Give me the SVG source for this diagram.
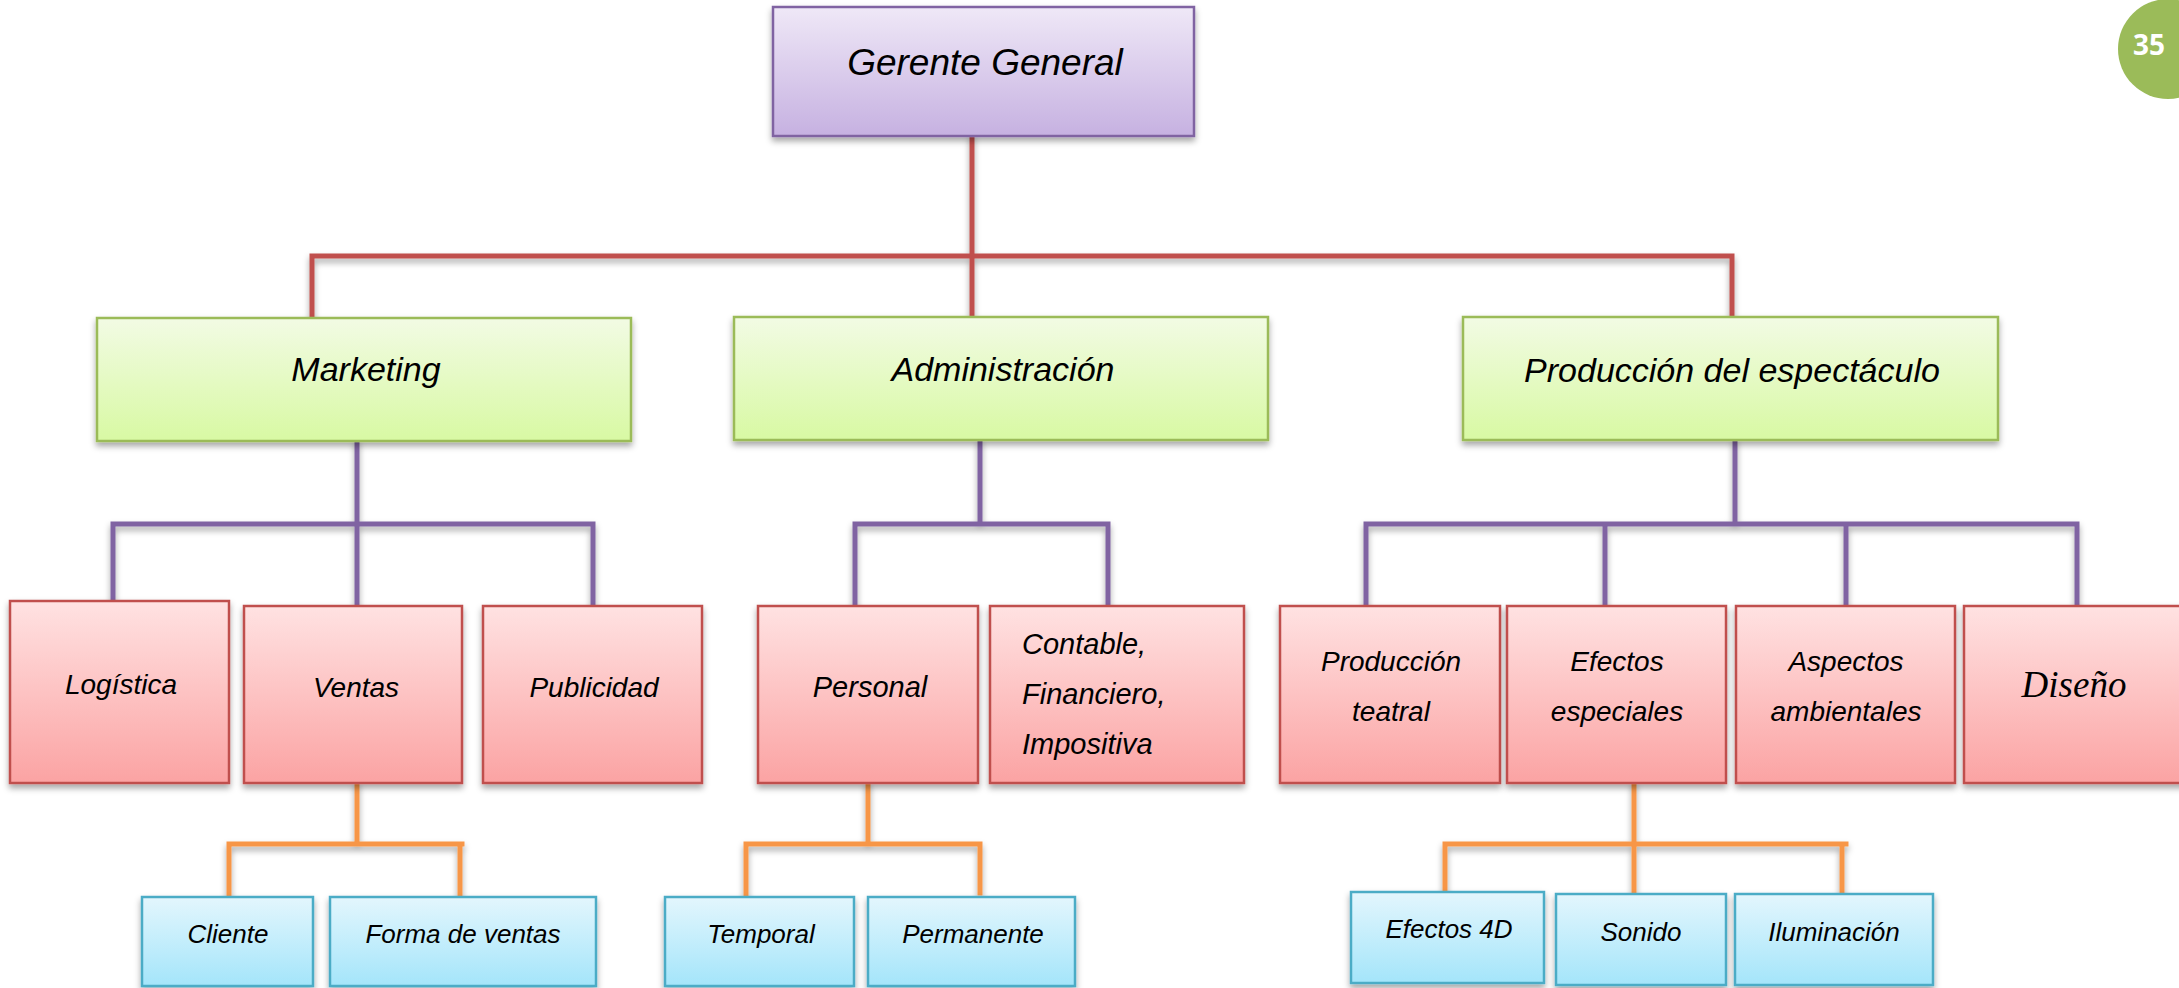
<svg xmlns="http://www.w3.org/2000/svg" width="2179" height="988" viewBox="0 0 2179 988">
<defs>
<linearGradient id="gPurple" x1="0" y1="0" x2="0" y2="1"><stop offset="0" stop-color="#EFE8F7"/><stop offset="1" stop-color="#C6B1E1"/></linearGradient>
<linearGradient id="gGreen" x1="0" y1="0" x2="0" y2="1"><stop offset="0" stop-color="#F2FBE4"/><stop offset="1" stop-color="#D8F9A3"/></linearGradient>
<linearGradient id="gRed" x1="0" y1="0" x2="0" y2="1"><stop offset="0" stop-color="#FFE2E2"/><stop offset="1" stop-color="#FBA3A3"/></linearGradient>
<linearGradient id="gBlue" x1="0" y1="0" x2="0" y2="1"><stop offset="0" stop-color="#E3F6FD"/><stop offset="1" stop-color="#A4E5FA"/></linearGradient>
<filter id="sh" x="-10%" y="-10%" width="120%" height="130%"><feDropShadow dx="0" dy="4" stdDeviation="3" flood-color="#000" flood-opacity="0.35"/></filter>
</defs>
<style>
.t{font-family:"Liberation Sans",Arial,sans-serif;font-style:italic;fill:#000;text-anchor:middle}
.gt{font-size:34px}
.rt{font-size:28px}
.bt{font-size:26px}
.box{stroke-width:2.5}
.p{fill:url(#gPurple);stroke:#8064A2}
.g{fill:url(#gGreen);stroke:#9BBB59}
.r{fill:url(#gRed);stroke:#C0504D}
.b{fill:url(#gBlue);stroke:#4BACC6}
.c{fill:none;stroke-width:5;stroke-linecap:square;stroke-linejoin:miter}
.cr{stroke:#C0504D}
.cp{stroke:#8064A2}
.co{stroke:#F79646}
</style>
<rect width="2179" height="988" fill="#FFFFFF"/>
<g id="connectors" filter="url(#sh)">
<path class="c cr" d="M972 136V317M312 318V256H1732V317"/>
<path class="c cp" d="M357 441V606M113 601V524H593V606"/>
<path class="c cp" d="M980 441V524M855 606V524H1108V606"/>
<path class="c cp" d="M1735 441V524M1366 606V524H2077V606M1605 524V606M1846 524V606"/>
<path class="c co" d="M357 783V844M229 897V844H462M460 844V897"/>
<path class="c co" d="M868 783V844M746 897V844H980V893"/>
<path class="c co" d="M1634 783V894M1445 892V844H1846M1842 844V894"/>
</g>
<g id="gerente"><rect class="box p" x="773" y="7" width="421" height="129" filter="url(#sh)"/><text class="t" x="985" y="75" font-size="37">Gerente General</text></g>
<g id="marketing"><rect class="box g" x="97" y="318" width="534" height="123" filter="url(#sh)"/><text class="t gt" x="366" y="381">Marketing</text></g>
<g id="administracion"><rect class="box g" x="734" y="317" width="534" height="123" filter="url(#sh)"/><text class="t gt" x="1003" y="381">Administración</text></g>
<g id="produccion"><rect class="box g" x="1463" y="317" width="535" height="123" filter="url(#sh)"/><text class="t gt" x="1732" y="382">Producción del espectáculo</text></g>
<g id="logistica"><rect class="box r" x="10" y="601" width="219" height="182" filter="url(#sh)"/><text class="t rt" x="121" y="694">Logística</text></g>
<g id="ventas"><rect class="box r" x="244" y="606" width="218" height="177" filter="url(#sh)"/><text class="t rt" x="356" y="697">Ventas</text></g>
<g id="publicidad"><rect class="box r" x="483" y="606" width="219" height="177" filter="url(#sh)"/><text class="t rt" x="594" y="697">Publicidad</text></g>
<g id="personal"><rect class="box r" x="758" y="606" width="220" height="177" filter="url(#sh)"/><text class="t" font-size="29" x="870" y="697">Personal</text></g>
<g id="contable"><rect class="box r" x="990" y="606" width="254" height="177" filter="url(#sh)"/><text class="t" font-size="29" style="text-anchor:start"><tspan x="1022" y="654">Contable,</tspan><tspan x="1022" y="704">Financiero,</tspan><tspan x="1022" y="754">Impositiva</tspan></text></g>
<g id="prodteatral"><rect class="box r" x="1280" y="606" width="220" height="177" filter="url(#sh)"/><text class="t rt"><tspan x="1391" y="671">Producción</tspan><tspan x="1391" y="721">teatral</tspan></text></g>
<g id="efectos"><rect class="box r" x="1507" y="606" width="219" height="177" filter="url(#sh)"/><text class="t rt"><tspan x="1617" y="671">Efectos</tspan><tspan x="1617" y="721">especiales</tspan></text></g>
<g id="aspectos"><rect class="box r" x="1736" y="606" width="219" height="177" filter="url(#sh)"/><text class="t rt"><tspan x="1846" y="671">Aspectos</tspan><tspan x="1846" y="721">ambientales</tspan></text></g>
<g id="diseno"><rect class="box r" x="1964" y="606" width="222" height="177" filter="url(#sh)"/><text x="2074" y="697" font-family="'Liberation Serif','Times New Roman',serif" font-style="italic" font-size="37" text-anchor="middle" fill="#000">Diseño</text></g>
<g id="cliente"><rect class="box b" x="142" y="897" width="171" height="89" filter="url(#sh)"/><text class="t bt" x="228" y="943">Cliente</text></g>
<g id="forma"><rect class="box b" x="330" y="897" width="266" height="89" filter="url(#sh)"/><text class="t bt" x="463" y="943">Forma de ventas</text></g>
<g id="temporal"><rect class="box b" x="665" y="897" width="189" height="89" filter="url(#sh)"/><text class="t bt" x="761" y="943">Temporal</text></g>
<g id="permanente"><rect class="box b" x="868" y="897" width="207" height="89" filter="url(#sh)"/><text class="t bt" x="973" y="943">Permanente</text></g>
<g id="efectos4d"><rect class="box b" x="1351" y="892" width="193" height="91" filter="url(#sh)"/><text class="t bt" x="1449" y="938">Efectos 4D</text></g>
<g id="sonido"><rect class="box b" x="1556" y="894" width="170" height="91" filter="url(#sh)"/><text class="t bt" x="1641" y="941">Sonido</text></g>
<g id="iluminacion"><rect class="box b" x="1735" y="894" width="198" height="91" filter="url(#sh)"/><text class="t bt" x="1834" y="941">Iluminación</text></g>
<g id="pagenum"><circle cx="2168" cy="49" r="50" fill="#9BBB59"/><text x="2149" y="55" font-family="'Open Sans','Liberation Sans',sans-serif" font-weight="bold" font-size="28" fill="#FFFFFF" text-anchor="middle">35</text></g>
</svg>
